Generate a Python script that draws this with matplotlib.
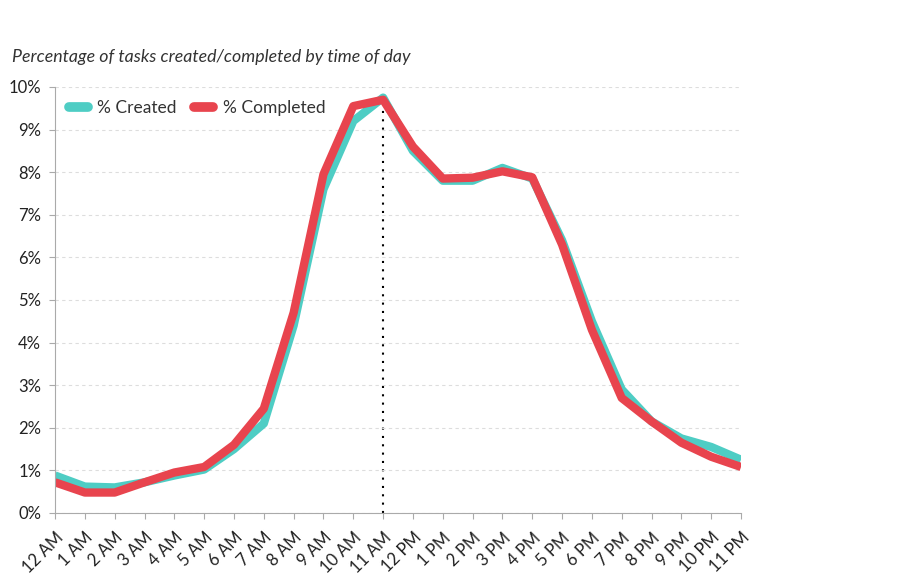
import matplotlib.pyplot as plt
import numpy as np

plt.rcParams['font.family'] = ['Lato', 'DejaVu Sans']

hours = ['12 AM', '1 AM', '2 AM', '3 AM', '4 AM', '5 AM', '6 AM', '7 AM', '8 AM',
         '9 AM', '10 AM', '11 AM', '12 PM', '1 PM', '2 PM', '3 PM', '4 PM', '5 PM',
         '6 PM', '7 PM', '8 PM', '9 PM', '10 PM', '11 PM']
created = [0.88, 0.62, 0.60, 0.72, 0.88, 1.02, 1.50, 2.10, 4.40, 7.60, 9.20, 9.75,
           8.50, 7.80, 7.80, 8.10, 7.85, 6.40, 4.50, 2.90, 2.15, 1.75, 1.55, 1.25]
completed = [0.72, 0.48, 0.48, 0.72, 0.95, 1.08, 1.60, 2.45, 4.70, 7.95, 9.55, 9.70,
             8.60, 7.85, 7.87, 8.02, 7.88, 6.30, 4.30, 2.70, 2.15, 1.65, 1.32, 1.08]

x = np.arange(len(hours))

fig = plt.figure(figsize=(9.05, 5.86), dpi=100)
ax = fig.add_axes([0.0608, 0.1246, 0.758, 0.727])

ax.plot(x, created, color='#4ecdc4', linewidth=6, solid_capstyle='butt', label='% Created')
ax.plot(x, completed, color='#e8444e', linewidth=6, solid_capstyle='butt', label='% Completed')
ax.axvline(11, color='black', linestyle=(0, (1, 3)), linewidth=1.5, zorder=0)

ax.set_xlim(0, 23)
ax.set_ylim(0, 10)
ax.set_yticks(range(0, 11))
ax.set_yticklabels([f'{i}%' for i in range(0, 11)])
ax.set_xticks(x)
ax.set_xticklabels(hours, rotation=45, ha='right', rotation_mode='anchor')
ax.yaxis.grid(True, color='#dddddd', linestyle=(0, (3, 3)), linewidth=0.8)
ax.set_axisbelow(True)

for s in ['top', 'right']:
    ax.spines[s].set_visible(False)
for s in ['left', 'bottom']:
    ax.spines[s].set_color('#aaaaaa')
ax.tick_params(axis='both', colors='#aaaaaa', labelcolor='#222222', labelsize=12, length=4)
ax.tick_params(axis='y', pad=6)
ax.tick_params(axis='x', pad=8)

leg = ax.legend(loc='upper left', ncol=2, frameon=False, fontsize=12.5,
                handlelength=1.1, columnspacing=1.0, handletextpad=0.55,
                borderaxespad=0, bbox_to_anchor=(0.01, 0.985))
for h in leg.get_lines():
    h.set_linewidth(7)
    h.set_solid_capstyle('round')
for t in leg.get_texts():
    t.set_color('#333333')

fig.text(0.013, 0.895, 'Percentage of tasks created/completed by time of day',
         fontsize=12.8, style='italic', color='#333333')

plt.savefig('out.png', dpi=100)
